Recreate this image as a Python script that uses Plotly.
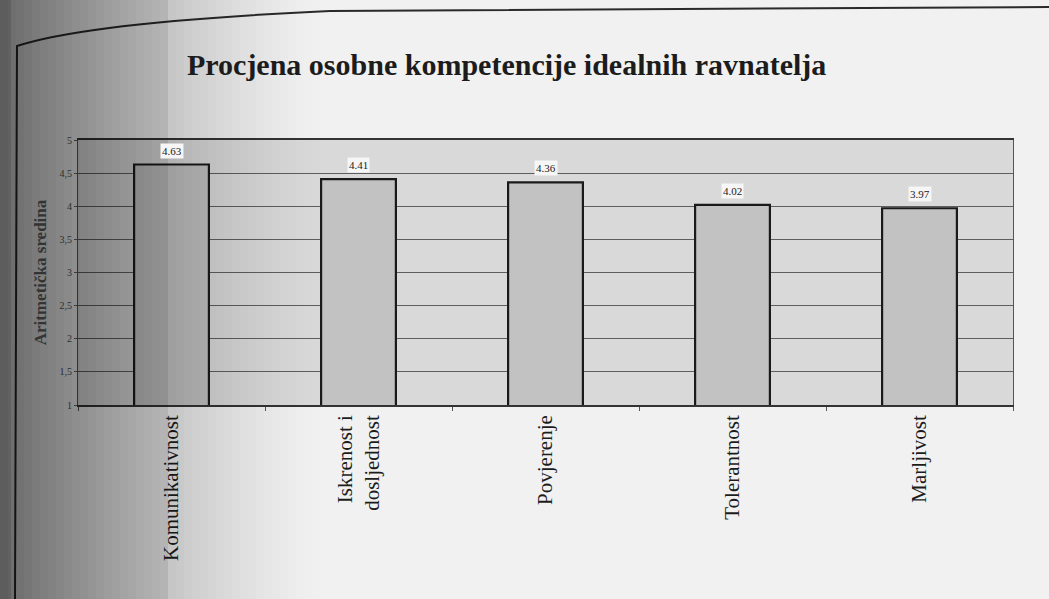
import plotly.graph_objects as go

# Ocjene osobnih kompetencija (aritmetička sredina, skala 1-5)
categories = ["Komunikativnost", "Iskrenost i<br>dosljednost", "Povjerenje", "Tolerantnost", "Marljivost"]
values = [4.63, 4.41, 4.36, 4.02, 3.97]
y_ticks = [1, 1.5, 2, 2.5, 3, 3.5, 4, 4.5, 5]
y_tick_labels = ["1", "1,5", "2", "2,5", "3", "3,5", "4", "4,5", "5"]

W, H = 1049, 599
L, R, T, B = 78, 36, 140, 194

fig = go.Figure()
fig.add_trace(go.Bar(
    x=categories, y=values, base=0,
    width=0.4,
    marker=dict(color="#c2c2c2", line=dict(color="#1a1a1a", width=2.2)),
    hoverinfo="x+y",
))

# vrijednosti iznad stupaca
for c, v in zip(categories, values):
    fig.add_annotation(
        x=c, y=v, text=f"{v:.2f}", showarrow=False, yanchor="bottom", yshift=6,
        font=dict(family="Liberation Serif", size=11, color="#222"),
        bgcolor="#f6f6f6", borderpad=1,
    )

fig.update_layout(
    width=W, height=H,
    margin=dict(l=L, r=R, t=T, b=B),
    paper_bgcolor="#f1f1f1",
    plot_bgcolor="#d9d9d9",
    showlegend=False,
    title=dict(
        text="<b>Procjena osobne kompetencije idealnih ravnatelja</b>",
        x=0.483, xanchor="center", y=0.893, yanchor="middle",
        font=dict(family="Liberation Serif", size=30, color="#1c1c1c"),
    ),
)

fig.update_xaxes(
    type="category",
    tickangle=-90,
    tickfont=dict(family="Liberation Serif", size=21, color="#1c1c1c"),
    showline=True, linecolor="#333", linewidth=1.5, mirror=True,
    ticks="outside", ticklen=4, tickcolor="#555", tickson="boundaries",
    showgrid=False,
)

fig.update_yaxes(
    range=[1, 5],
    tickvals=y_ticks, ticktext=y_tick_labels,
    tickfont=dict(family="Liberation Serif", size=10, color="#555"),
    showline=True, linecolor="#555", linewidth=1, mirror=True,
    ticks="outside", ticklen=3, tickcolor="#666",
    showgrid=True, gridcolor="#5e5e5e", gridwidth=1,
    zeroline=False,
    title=dict(text="<b>Aritmetička sredina</b>",
               font=dict(family="Liberation Serif", size=17, color="#333"),
               standoff=8),
)

plot_w = W - L - R
plot_h = H - T - B


def px_x(p):
    return (p - L) / plot_w


def px_y(p):
    return 1 - (p - T) / plot_h


# okvir grafikona: zaobljeni gornji lijevi kut i lijevi rub
fig.add_shape(
    type="path", xref="paper", yref="paper",
    path=(f"M {px_x(15)},{px_y(H)} L {px_x(17)},{px_y(46)} "
          f"Q {px_x(90)},{px_y(22)} {px_x(330)},{px_y(11)} "
          f"L {px_x(1049)},{px_y(7)}"),
    line=dict(color="#2a2a2a", width=2), layer="above",
)

# sjena uveza s lijeve strane stranice
strip = 8
edge = 320
for i in range(0, edge, strip):
    t = i / edge
    op = 0.5 * (1 - t) ** 1.4
    if i < 165:
        op += 0.06
    fig.add_shape(
        type="rect", xref="paper", yref="paper",
        x0=px_x(i), x1=px_x(i + strip), y0=px_y(H), y1=px_y(0),
        fillcolor="black", opacity=op, line=dict(width=0), layer="above",
    )
fig.add_shape(
    type="rect", xref="paper", yref="paper",
    x0=px_x(0), x1=px_x(11), y0=px_y(H), y1=px_y(0),
    fillcolor="black", opacity=0.12, line=dict(width=0), layer="above",
)

fig.write_html("out.html")
